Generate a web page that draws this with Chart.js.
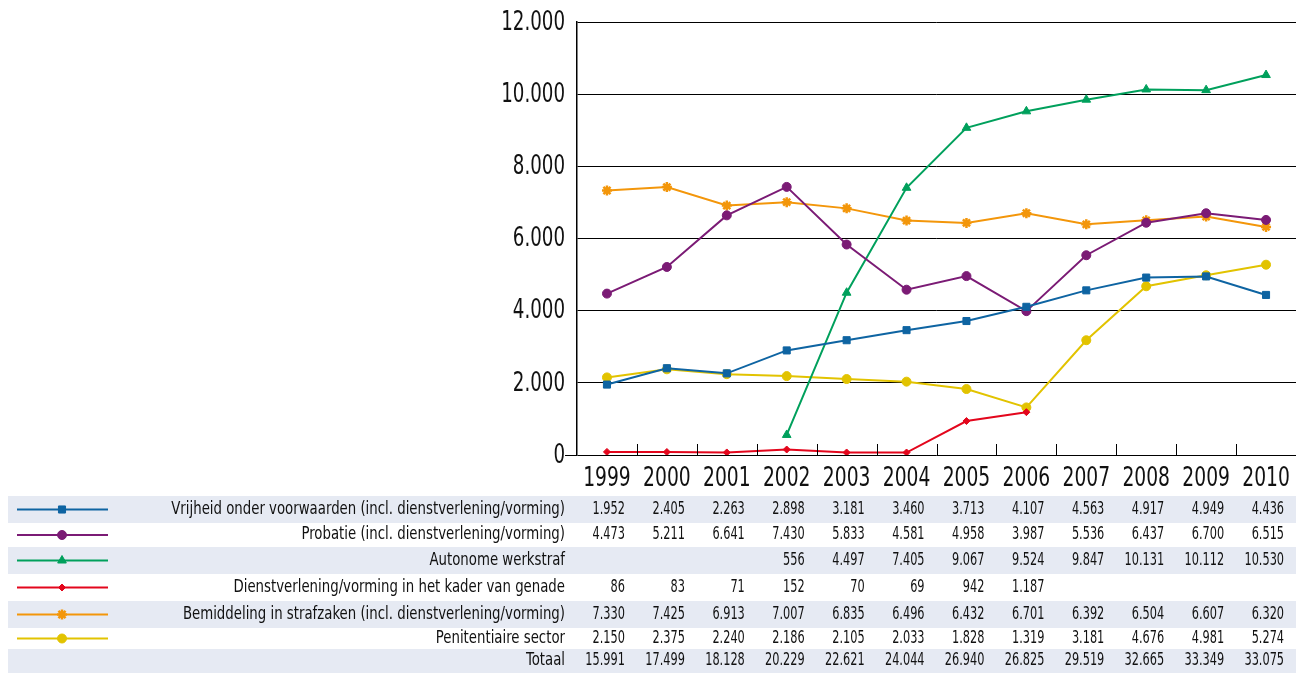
<!DOCTYPE html>
<html>
<head>
<meta charset="utf-8">
<script src="https://cdn.jsdelivr.net/npm/chart.js@4.4.1/dist/chart.umd.min.js"></script>
<style>
  html, body { margin: 0; padding: 0; background: #fff; overflow: hidden; }
  #wrap { position: relative; width: 1296px; height: 673px; }
</style>
</head>
<body>
<div id="wrap"><canvas id="chart" width="1296" height="673"></canvas></div>
<script>
const years = ['1999', '2000', '2001', '2002', '2003', '2004', '2005', '2006', '2007', '2008', '2009', '2010'];

const vrijheid = [1952, 2405, 2263, 2898, 3181, 3460, 3713, 4107, 4563, 4917, 4949, 4436];
const probatie = [4473, 5211, 6641, 7430, 5833, 4581, 4958, 3987, 5536, 6437, 6700, 6515];
const werkstraf = [null, null, null, 556, 4497, 7405, 9067, 9524, 9847, 10131, 10112, 10530];
const genade = [86, 83, 71, 152, 70, 69, 942, 1187, null, null, null, null];
const bemiddeling = [7330, 7425, 6913, 7007, 6835, 6496, 6432, 6701, 6392, 6504, 6607, 6320];
const penitentiair = [2150, 2375, 2240, 2186, 2105, 2033, 1828, 1319, 3181, 4676, 4981, 5274];
const totaal = [15991, 17499, 18128, 20229, 22621, 24044, 26940, 26825, 29519, 32665, 33349, 33075];

const yTicks = [0, 2000, 4000, 6000, 8000, 10000, 12000];

const seriesNames = [
  'Vrijheid onder voorwaarden (incl. dienstverlening/vorming)',
  'Probatie (incl. dienstverlening/vorming)',
  'Autonome werkstraf',
  'Dienstverlening/vorming in het kader van genade',
  'Bemiddeling in strafzaken (incl. dienstverlening/vorming)',
  'Penitentiaire sector'
];
const totalName = 'Totaal';

const FONT = "'DejaVu Sans Condensed', 'DejaVu Sans', sans-serif";

function fmt(v) {
  if (v === null || v === undefined) return '';
  return String(v).replace(/\B(?=(\d{3})+(?!\d))/g, '.');
}

// squeezed text, the original uses a condensed face
function txt(ctx, s, x, y, align, sx) {
  ctx.save();
  ctx.translate(x, y);
  ctx.scale(sx, 1);
  ctx.textAlign = align;
  ctx.fillText(s, 0, 0);
  ctx.restore();
}

const styles = [
  { color: '#0e64a2', point: 'rect', radius: 5 },
  { color: '#7b1b75', point: 'circle', radius: 4.5 },
  { color: '#00a05c', point: 'triangle', radius: 5 },
  { color: '#e3061c', point: 'rectRot', radius: 3.5 },
  { color: '#f3960a', point: 'star', radius: 5 },
  { color: '#e2c300', point: 'circle', radius: 4.5 }
];
const seriesData = [vrijheid, probatie, werkstraf, genade, bemiddeling, penitentiair];

const datasets = seriesData.map((d, i) => ({
  label: seriesNames[i],
  data: d,
  borderColor: styles[i].color,
  backgroundColor: styles[i].color,
  pointBorderColor: styles[i].color,
  pointBackgroundColor: styles[i].color,
  pointStyle: styles[i].point,
  pointRadius: styles[i].radius,
  pointBorderWidth: styles[i].point === 'star' ? 2.5 : 1,
  borderWidth: 2,
  tension: 0,
  fill: false
}));

const tablePlugin = {
  id: 'tablePlugin',
  afterDraw(chart) {
    const ctx = chart.ctx;
    const xs = chart.scales.x;
    const ys = chart.scales.y;
    const area = chart.chartArea;
    ctx.save();

    // short category ticks inside the plot
    ctx.strokeStyle = '#000';
    ctx.lineWidth = 1;
    for (let i = 1; i < years.length; i++) {
      const px = Math.round((xs.getPixelForValue(i - 1) + xs.getPixelForValue(i)) / 2) + 0.5;
      ctx.beginPath();
      ctx.moveTo(px, area.bottom);
      ctx.lineTo(px, area.bottom - 11);
      ctx.stroke();
    }
    ctx.beginPath();
    ctx.moveTo(area.left - 12, area.bottom + 0.5);
    ctx.lineTo(area.left, area.bottom + 0.5);
    ctx.stroke();

    // axis labels
    ctx.fillStyle = '#111';
    ctx.textBaseline = 'middle';
    ctx.font = '26px ' + FONT;
    yTicks.forEach(v => txt(ctx, fmt(v), 565, ys.getPixelForValue(v) + 1, 'right', 0.78));
    years.forEach((y, i) => txt(ctx, y, xs.getPixelForValue(i), 479, 'center', 0.8));

    // data table
    const rowTop = [496, 523, 547, 574, 601, 628, 649];
    const rowH = [27, 24, 27, 27, 27, 21, 24];
    const rows = seriesData.concat([totaal]);
    const names = seriesNames.concat([totalName]);

    for (let r = 0; r < rows.length; r++) {
      const top = rowTop[r], h = rowH[r];
      const cy = top + h / 2;
      if (r % 2 === 0) {
        ctx.fillStyle = '#e6eaf3';
        ctx.fillRect(8, top, 1296 - 8, h);
      }
      if (r < styles.length) {
        const st = styles[r];
        ctx.strokeStyle = st.color;
        ctx.fillStyle = st.color;
        ctx.lineWidth = 2;
        ctx.beginPath();
        ctx.moveTo(17, cy);
        ctx.lineTo(108, cy);
        ctx.stroke();
        ctx.lineWidth = st.point === 'star' ? 2.5 : 1;
        Chart.helpers.drawPoint(ctx, { pointStyle: st.point, radius: st.radius, borderWidth: ctx.lineWidth, rotation: 0 }, 62, cy);
      }
      ctx.fillStyle = '#111';
      ctx.font = '17px ' + FONT;
      ctx.textBaseline = 'middle';
      txt(ctx, names[r], 565, cy, 'right', 0.87);
      for (let i = 0; i < years.length; i++) {
        txt(ctx, fmt(rows[r][i]), xs.getPixelForValue(i) + 18, cy, 'right', 0.74);
      }
    }
    ctx.restore();
  }
};

const chart = new Chart(document.getElementById('chart').getContext('2d'), {
  type: 'line',
  data: { labels: years, datasets: datasets },
  plugins: [tablePlugin],
  options: {
    responsive: false,
    animation: false,
    layout: { autoPadding: false, padding: { top: 22, right: 0, left: 0, bottom: 0 } },
    plugins: { legend: { display: false }, tooltip: { enabled: false }, title: { display: false } },
    scales: {
      x: {
        offset: true,
        grid: { display: false, drawTicks: false },
        border: { display: false },
        ticks: { display: false },
        afterFit(scale) { scale.height = 218; }
      },
      y: {
        min: 0,
        max: 12000,
        afterBuildTicks(scale) { scale.ticks = yTicks.map(v => ({ value: v })); },
        grid: { color: '#000', lineWidth: 1, drawTicks: false },
        border: { display: true, color: '#000', width: 1.5 },
        ticks: { display: false },
        afterFit(scale) { scale.width = 577; }
      }
    }
  }
});
</script>
</body>
</html>
